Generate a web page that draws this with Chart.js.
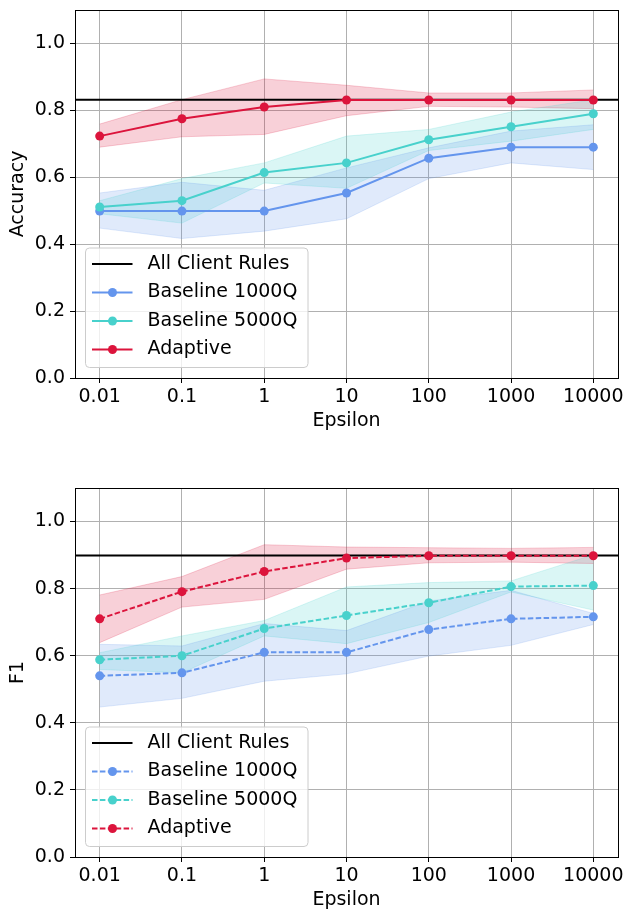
<!DOCTYPE html>
<html>
<head>
<meta charset="utf-8">
<script src="https://cdn.jsdelivr.net/npm/chart.js@4.4.0/dist/chart.umd.min.js"></script>
<style>
  body { margin: 0; background: #fff; }
  #wrap { position: relative; width: 633px; height: 920px; overflow: hidden; }
  canvas { position: absolute; left: 0; }
</style>
</head>
<body>
<div id="wrap">
  <canvas id="accChart" width="633" height="460" style="top:-18px"></canvas>
  <canvas id="f1Chart" width="633" height="460" style="top:460px"></canvas>
</div>
<script>
// x categories (epsilon)
const epsilonLabels = ['0.01', '0.1', '1', '10', '100', '1000', '10000'];
const yTicks = [0, 0.2, 0.4, 0.6, 0.8, 1.0];

// accuracy
const accAllClient = 0.832;
const accBase1000 = [0.499, 0.499, 0.499, 0.553, 0.657, 0.690, 0.690];
const accBase1000Lo = [0.448, 0.417, 0.439, 0.476, 0.596, 0.643, 0.623];
const accBase1000Hi = [0.553, 0.585, 0.561, 0.628, 0.688, 0.738, 0.757];
const accBase5000 = [0.511, 0.530, 0.614, 0.643, 0.712, 0.751, 0.790];
const accBase5000Lo = [0.491, 0.463, 0.583, 0.567, 0.680, 0.708, 0.743];
const accBase5000Hi = [0.530, 0.596, 0.643, 0.723, 0.743, 0.795, 0.832];
const accAdaptive = [0.723, 0.775, 0.810, 0.831, 0.831, 0.831, 0.831];
const accAdaptiveLo = [0.690, 0.721, 0.728, 0.784, 0.812, 0.810, 0.805];
const accAdaptiveHi = [0.759, 0.832, 0.894, 0.875, 0.852, 0.852, 0.861];

// f1
const f1AllClient = 0.899;
const f1Base1000 = [0.540, 0.549, 0.610, 0.610, 0.678, 0.710, 0.716];
const f1Base1000Lo = [0.447, 0.473, 0.524, 0.546, 0.599, 0.631, 0.693];
const f1Base1000Hi = [0.634, 0.629, 0.696, 0.675, 0.763, 0.795, 0.726];
const f1Base5000 = [0.588, 0.600, 0.681, 0.720, 0.758, 0.806, 0.809];
const f1Base5000Lo = [0.559, 0.549, 0.659, 0.636, 0.699, 0.790, 0.736];
const f1Base5000Hi = [0.609, 0.659, 0.705, 0.805, 0.818, 0.823, 0.901];
const f1Adaptive = [0.710, 0.791, 0.851, 0.891, 0.898, 0.898, 0.898];
const f1AdaptiveLo = [0.639, 0.745, 0.768, 0.858, 0.877, 0.879, 0.875];
const f1AdaptiveHi = [0.781, 0.836, 0.931, 0.924, 0.922, 0.920, 0.923];

const BLUE = [100, 149, 237];
const TURQ = [72, 209, 204];
const RED = [220, 20, 60];
const FONT = '"DejaVu Sans", sans-serif';
const FS = 19;

Chart.defaults.font.family = FONT;
Chart.defaults.font.size = FS;
Chart.defaults.color = '#000';

function rgba(c, a) { return 'rgba(' + c[0] + ',' + c[1] + ',' + c[2] + ',' + a + ')'; }
function pts(vals) { return vals.map((v, i) => ({ x: i, y: v })); }

function band(hi, lo, c) {
  return [
    { data: pts(hi), fill: '+1', backgroundColor: rgba(c, 0.2), borderColor: rgba(c, 0.2),
      borderWidth: 1, pointRadius: 0, order: 10 },
    { data: pts(lo), fill: false, borderColor: rgba(c, 0.2), borderWidth: 1, pointRadius: 0, order: 10 }
  ];
}

function series(label, vals, c, dashed, order) {
  return { label: label, data: pts(vals), borderColor: rgba(c, 1), backgroundColor: rgba(c, 1),
    borderWidth: 2, borderDash: dashed ? [5.5, 2.4] : [], pointRadius: 4.5, pointHoverRadius: 4.5,
    pointBorderWidth: 0, fill: false, order: order };
}

// frame (all four spines) and the boxed legend
const framePlugin = {
  id: 'frame',
  afterDatasetsDraw(chart) {
    const { ctx, chartArea: a } = chart;
    ctx.save();
    ctx.strokeStyle = '#000';
    ctx.lineWidth = 1;
    ctx.strokeRect(Math.round(a.left) + 0.5, Math.round(a.top) + 0.5,
      Math.round(a.right - a.left), Math.round(a.bottom - a.top));
    ctx.restore();
  },
  afterDraw(chart) {
    const { ctx, chartArea: a } = chart;
    const items = chart.data.datasets.filter(d => d.label);
    const x = a.left + 10.5, y = a.bottom - 130, w = 222.5, h = 119.5, r = 4;
    ctx.save();
    ctx.beginPath();
    ctx.moveTo(x + r, y);
    ctx.arcTo(x + w, y, x + w, y + h, r);
    ctx.arcTo(x + w, y + h, x, y + h, r);
    ctx.arcTo(x, y + h, x, y, r);
    ctx.arcTo(x, y, x + w, y, r);
    ctx.closePath();
    ctx.fillStyle = 'rgba(255,255,255,0.8)';
    ctx.fill();
    ctx.strokeStyle = '#cccccc';
    ctx.lineWidth = 1;
    ctx.stroke();
    items.forEach((d, i) => {
      const cy = y + 16 + i * 28.5;
      ctx.strokeStyle = d.borderColor;
      ctx.lineWidth = d.borderWidth;
      ctx.setLineDash(d.borderDash || []);
      ctx.beginPath();
      ctx.moveTo(x + 6.5, cy);
      ctx.lineTo(x + 47, cy);
      ctx.stroke();
      ctx.setLineDash([]);
      if (d.pointRadius) {
        ctx.fillStyle = d.backgroundColor;
        ctx.beginPath();
        ctx.arc(x + 27, cy, d.pointRadius, 0, Math.PI * 2);
        ctx.fill();
      }
      ctx.fillStyle = '#000';
      ctx.font = FS + 'px ' + FONT;
      ctx.textBaseline = 'middle';
      ctx.textAlign = 'left';
      ctx.fillText(d.label, x + 62, cy);
    });
    ctx.restore();
  }
};

function makeChart(id, yTitle, allClient, b1, b1lo, b1hi, b5, b5lo, b5hi, ad, adlo, adhi, dashed, lay) {
  const datasets = [
    ...band(b1hi, b1lo, BLUE),
    ...band(b5hi, b5lo, TURQ),
    ...band(adhi, adlo, RED),
    { label: 'All Client Rules', data: [{ x: -0.3, y: allClient }, { x: 6.3, y: allClient }],
      borderColor: '#000', backgroundColor: '#000', borderWidth: 2, pointRadius: 0, fill: false, order: 5 },
    series('Baseline 1000Q', b1, BLUE, dashed, 4),
    series('Baseline 5000Q', b5, TURQ, dashed, 3),
    series('Adaptive', ad, RED, dashed, 2)
  ];
  return new Chart(document.getElementById(id), {
    type: 'line',
    data: { datasets: datasets },
    plugins: [framePlugin],
    options: {
      responsive: false,
      animation: false,
      layout: { padding: { top: lay.top, right: 15, left: 0, bottom: 0 } },
      plugins: {
        legend: { display: false },
        tooltip: { enabled: false },
        filler: { drawTime: 'beforeDatasetsDraw' }
      },
      elements: { line: { tension: 0 } },
      scales: {
        x: {
          type: 'linear', min: -0.3, max: 6.3,
          afterFit: s => { s.height = lay.xh; },
          afterBuildTicks: s => { s.ticks = epsilonLabels.map((l, i) => ({ value: i })); },
          ticks: { callback: v => epsilonLabels[v], padding: 3, maxRotation: 0, autoSkip: false },
          grid: { color: '#b0b0b0', lineWidth: 1, tickColor: '#000', tickLength: 5 },
          border: { display: false },
          title: { display: true, text: 'Epsilon', padding: { top: 0, bottom: lay.tb } }
        },
        y: {
          min: 0, max: 1.1,
          afterFit: s => { s.width = 75; },
          afterBuildTicks: s => { s.ticks = yTicks.map(v => ({ value: v })); },
          ticks: { callback: v => v.toFixed(1), padding: 5 },
          grid: { color: '#b0b0b0', lineWidth: 1, tickColor: '#000', tickLength: 5 },
          border: { display: false },
          title: { display: true, text: yTitle, padding: { top: 7, bottom: 0 } }
        }
      }
    }
  });
}

makeChart('accChart', 'Accuracy', accAllClient,
  accBase1000, accBase1000Lo, accBase1000Hi,
  accBase5000, accBase5000Lo, accBase5000Hi,
  accAdaptive, accAdaptiveLo, accAdaptiveHi, false, { top: 28, xh: 64, tb: 9.6 });

makeChart('f1Chart', 'F1', f1AllClient,
  f1Base1000, f1Base1000Lo, f1Base1000Hi,
  f1Base5000, f1Base5000Lo, f1Base5000Hi,
  f1Adaptive, f1AdaptiveLo, f1AdaptiveHi, true, { top: 28, xh: 63, tb: 8.6 });
</script>
</body>
</html>
